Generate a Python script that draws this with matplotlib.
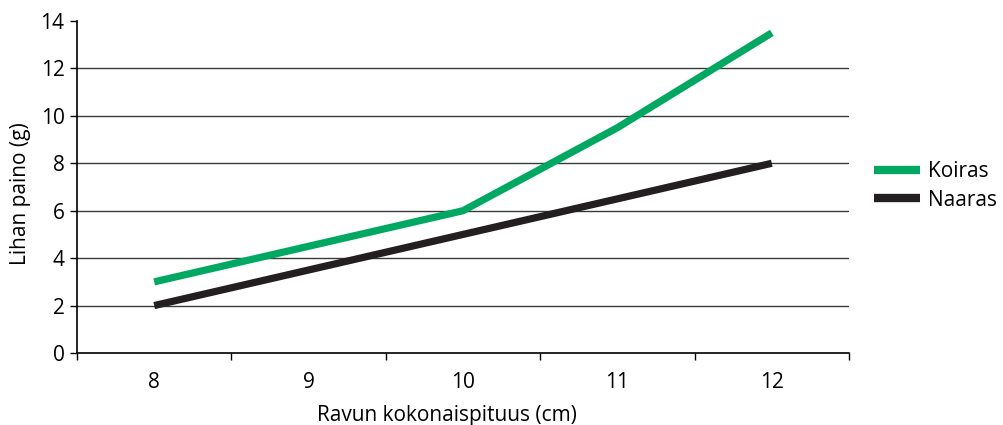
import matplotlib
matplotlib.use("Agg")
import matplotlib.pyplot as plt
import numpy as np

plt.rcParams['font.family'] = ['Open Sans', 'DejaVu Sans']

lengths = ["8", "9", "10", "11", "12"]
koiras = [3.0, 4.5, 6.0, 9.5, 13.5]
naaras = [2.0, 3.5, 5.0, 6.5, 8.0]
y_ticks = [0, 2, 4, 6, 8, 10, 12, 14]

FS = 15

fig = plt.figure(figsize=(10.04, 4.25), dpi=100)
ax = fig.add_axes([77/1004, 1-353/425, (849-77)/1004, (353-21)/425])

x = np.arange(len(lengths))
ax.plot(x, koiras, color='#00A862', lw=5.2, solid_capstyle='butt', solid_joinstyle='miter', label='Koiras', zorder=3)
ax.plot(x, naaras, color='#231F20', lw=5.2, solid_capstyle='butt', solid_joinstyle='miter', label='Naaras', zorder=3)

ax.set_xlim(-0.5, len(lengths) - 0.5)
ax.set_ylim(0, 14)
ax.set_yticks(y_ticks)
ax.set_yticklabels([str(v) for v in y_ticks], fontsize=FS)
ax.set_xticks(x)
ax.set_xticklabels(lengths, fontsize=FS)
ax.set_xticks(np.arange(len(lengths) + 1) - 0.5, minor=True)
ax.tick_params(axis='x', which='major', length=0, pad=14)
ax.tick_params(axis='x', which='minor', length=5, width=1, direction='out')
ax.tick_params(axis='y', length=5, width=1, direction='out', pad=4)

for v in y_ticks[1:-1]:
    ax.axhline(v, color='#3a3a3a', lw=1.0, zorder=1)

for side in ['top', 'right']:
    ax.spines[side].set_visible(False)
ax.spines['left'].set_linewidth(1.2)
ax.spines['bottom'].set_linewidth(1.2)

ax.set_xlabel('Ravun kokonaispituus (cm)', fontsize=FS)
ax.xaxis.set_label_coords(0.479, -0.157)
ax.set_ylabel('Lihan paino (g)', fontsize=FS)
ax.yaxis.set_label_coords(-0.060, 0.479)

leg = fig.legend(loc='center left', bbox_to_anchor=(874/1004, 1-186/425),
                 frameon=False, fontsize=FS, handlelength=2.2,
                 handletextpad=0.4, labelspacing=0.35,
                 borderpad=0, borderaxespad=0)
for line in leg.get_lines():
    line.set_linewidth(6)

fig.savefig('out.png', dpi=100)
